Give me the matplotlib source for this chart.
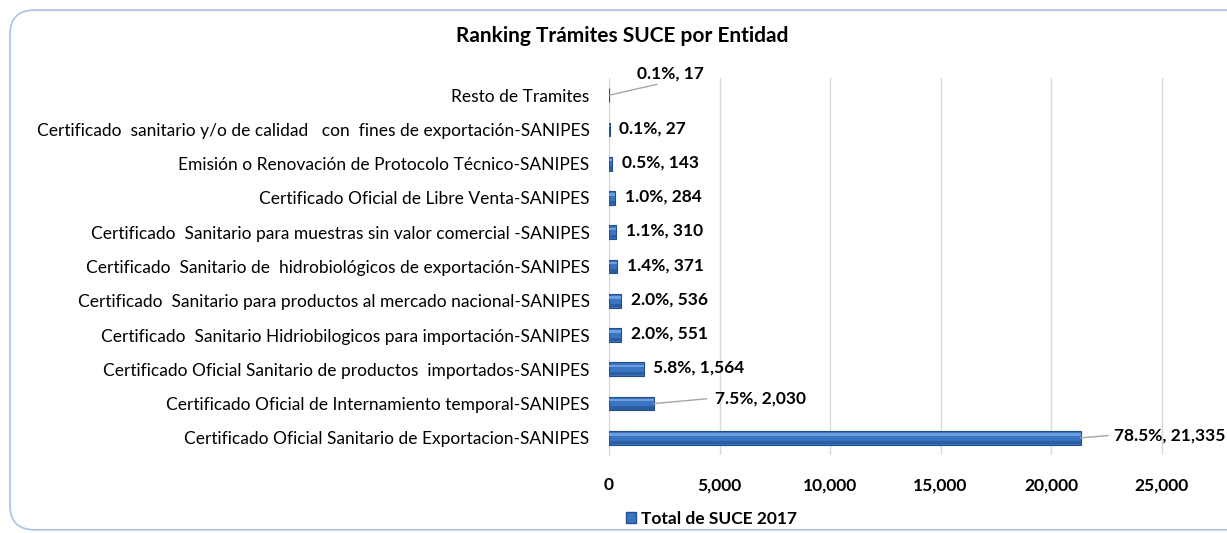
import numpy as np
import matplotlib
matplotlib.use('Agg')
import matplotlib.pyplot as plt
from matplotlib.patches import FancyBboxPatch, Patch


# data, bottom to top
categories = [
    'Certificado Oficial Sanitario de Exportacion-SANIPES',
    'Certificado Oficial de Internamiento temporal-SANIPES',
    'Certificado Oficial Sanitario de productos  importados-SANIPES',
    'Certificado  Sanitario Hidriobilogicos para importación-SANIPES',
    'Certificado  Sanitario para productos al mercado nacional-SANIPES',
    'Certificado  Sanitario de  hidrobiológicos de exportación-SANIPES',
    'Certificado  Sanitario para muestras sin valor comercial -SANIPES',
    'Certificado Oficial de Libre Venta-SANIPES',
    'Emisión o Renovación de Protocolo Técnico-SANIPES',
    'Certificado  sanitario y/o de calidad   con  fines de exportación-SANIPES',
    'Resto de Tramites',
]
values = [21335, 2030, 1564, 551, 536, 371, 310, 284, 143, 27, 17]
xticks = [0, 5000, 10000, 15000, 20000, 25000]
title = 'Ranking Trámites SUCE por Entidad'
legend_label = 'Total de SUCE 2017'

total = sum(values)
pcts = [v / total * 100 for v in values]

plt.rcParams['font.family'] = ['Lato', 'DejaVu Sans']

fig = plt.figure(figsize=(12.27, 5.33), dpi=100)

# rounded frame of the chart area
frame = FancyBboxPatch((10 / 1227, 0.006), 1.2, 0.975,
                       boxstyle='round,pad=0,rounding_size=0.02',
                       transform=fig.transFigure, facecolor='white',
                       edgecolor='#A9C2E6', linewidth=1.2,
                       mutation_aspect=1227 / 533, zorder=-10)
fig.patches.append(frame)

ax = fig.add_axes([609 / 1227, 1 - 455 / 533, 663 / 1227, 377 / 533])
ax.set_facecolor('none')

y = np.arange(len(categories))
ax.barh(y, values, height=0.4, color='#3A74C2', edgecolor='#224F8C',
        linewidth=0.8, zorder=3)
ax.barh(y + 0.1, values, height=0.07, color='#6E9EDC', linewidth=0, zorder=4)
ax.barh(y - 0.13, values, height=0.1, color='#2C5E9F', linewidth=0, zorder=4)

ax.set_xlim(0, 30000)
ax.set_ylim(-0.5, len(categories) - 0.5)
ax.set_xticks(xticks)
ax.set_xticklabels([f'{t:,}' for t in xticks], fontweight='bold', fontsize=12.5)
ax.set_yticks(y)
ax.set_yticklabels(categories, fontsize=12.5)
ax.tick_params(axis='y', length=0, pad=14)
ax.tick_params(axis='x', length=0, pad=16)
ax.grid(axis='x', color='#D9D9D9', linewidth=1, zorder=0)
for s in ['top', 'right', 'bottom']:
    ax.spines[s].set_visible(False)
ax.spines['left'].set_color('#D9D9D9')

# data labels
lab = dict(fontweight='bold', fontsize=12.5)
for i, (v, p) in enumerate(zip(values, pcts)):
    txt = f'{p:.1f}%, {v:,}'
    if v == 17:
        ax.annotate(txt, (v, i), xytext=(44, 10), textcoords='offset points',
                    ha='center', va='bottom', **lab,
                    arrowprops=dict(arrowstyle='-', color='#A6A6A6', lw=1,
                                    relpos=(0.5, 0), shrinkA=1, shrinkB=0))
    elif v == 2030:
        ax.annotate(txt, (v, i), xytext=(44, 4), textcoords='offset points',
                    ha='left', va='center', **lab,
                    arrowprops=dict(arrowstyle='-', color='#A6A6A6', lw=1,
                                    relpos=(0, 0.5), shrinkA=4, shrinkB=0))
    elif v == 21335:
        ax.annotate(txt, (v, i), xytext=(24, 2), textcoords='offset points',
                    ha='left', va='center', **lab,
                    arrowprops=dict(arrowstyle='-', color='#A6A6A6', lw=1,
                                    relpos=(0, 0.5), shrinkA=2, shrinkB=0))
    else:
        ax.annotate(txt, (v, i), xytext=(7, 1), textcoords='offset points',
                    ha='left', va='center', **lab)

fig.text(622 / 1227, 1 - 36 / 533, title, ha='center', va='center',
         fontweight='bold', fontsize=15)

handle = Patch(facecolor='#3A74C2', edgecolor='#224F8C')
fig.legend([handle], [legend_label], loc='center left',
           bbox_to_anchor=(610 / 1227, 1 - 519 / 533), frameon=False,
           prop=dict(weight='bold', size=12.5), handlelength=0.6,
           handleheight=0.6, handletextpad=0.3)

fig.savefig('out.png', dpi=100)
